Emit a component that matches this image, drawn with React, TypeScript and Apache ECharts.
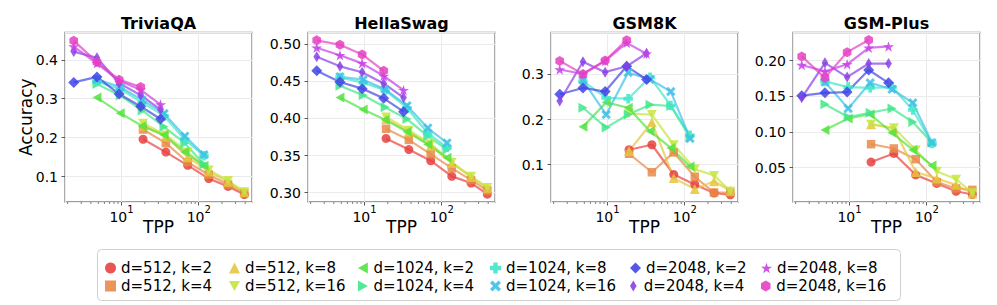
import React, { useEffect, useRef } from 'react';
import * as echarts from 'echarts';

const FONT = 'DejaVu Sans';

// Tokens-per-parameter (x values) per model width
const TPP_D512 = [19, 37.5, 72, 135, 240, 390];
const TPP_D1024 = [4.8, 9.6, 18.5, 35.5, 66, 117];
const TPP_D2048 = [2.4, 4.8, 9.3, 17.7, 32];

const SERIES_NAMES = [
  'd=512, k=2', 'd=512, k=4', 'd=512, k=8', 'd=512, k=16',
  'd=1024, k=2', 'd=1024, k=4', 'd=1024, k=8', 'd=1024, k=16',
  'd=2048, k=2', 'd=2048, k=4', 'd=2048, k=8', 'd=2048, k=16',
];

const BENCHMARKS = ['TriviaQA', 'HellaSwag', 'GSM8K', 'GSM-Plus'];

// ---- TriviaQA accuracy ----
const TQA_512_K2 = [0.196, 0.163, 0.129, 0.095, 0.075, 0.054];
const TQA_512_K4 = [0.221, 0.186, 0.137, 0.105, 0.080, 0.058];
const TQA_512_K8 = [0.231, 0.203, 0.150, 0.113, 0.087, 0.060];
const TQA_512_K16 = [0.237, 0.207, 0.163, 0.117, 0.090, 0.061];
const TQA_1024_K2 = [0.303, 0.263, 0.230, 0.207, 0.163, 0.128];
const TQA_1024_K4 = [0.338, 0.308, 0.270, 0.228, 0.186, 0.132];
const TQA_1024_K8 = [0.344, 0.325, 0.290, 0.256, 0.195, 0.154];
const TQA_1024_K16 = [0.350, 0.330, 0.297, 0.262, 0.204, 0.156];
const TQA_2048_K2 = [0.342, 0.356, 0.312, 0.280, 0.248];
const TQA_2048_K4 = [0.421, 0.405, 0.340, 0.309, 0.272];
const TQA_2048_K8 = [0.434, 0.391, 0.346, 0.323, 0.285];
const TQA_2048_K16 = [0.449, 0.394, 0.349, 0.330];

// ---- HellaSwag accuracy ----
const HS_512_K2 = [0.373, 0.358, 0.343, 0.322, 0.313, 0.298];
const HS_512_K4 = [0.386, 0.371, 0.352, 0.333, 0.317, 0.303];
const HS_512_K8 = [0.399, 0.382, 0.363, 0.340, 0.321, 0.306];
const HS_512_K16 = [0.402, 0.384, 0.366, 0.341, 0.322, 0.307];
const HS_1024_K2 = [0.428, 0.412, 0.398, 0.382, 0.365, 0.347];
const HS_1024_K4 = [0.444, 0.431, 0.415, 0.399, 0.376, 0.358];
const HS_1024_K8 = [0.455, 0.448, 0.438, 0.414, 0.380, 0.361];
const HS_1024_K16 = [0.456, 0.452, 0.439, 0.417, 0.387, 0.367];
const HS_2048_K2 = [0.464, 0.449, 0.440, 0.427, 0.409];
const HS_2048_K4 = [0.483, 0.470, 0.462, 0.447, 0.428];
const HS_2048_K8 = [0.495, 0.485, 0.474, 0.457, 0.438];
const HS_2048_K16 = [0.505, 0.499, 0.486, 0.464];

// ---- GSM8K accuracy ----
const G8_512_K2 = [0.133, 0.144, 0.078, 0.056, 0.037, 0.033];
const G8_512_K4 = [0.124, 0.083, 0.127, 0.073, 0.038, 0.038];
const G8_512_K8 = [0.130, 0.194, 0.070, 0.046, 0.063, 0.042];
const G8_512_K16 = [0.213, 0.211, 0.144, 0.090, 0.076, 0.041];
const G8_1024_K2 = [0.184, 0.238, 0.226, 0.174, 0.137, 0.096];
const G8_1024_K4 = [0.226, 0.182, 0.211, 0.233, 0.230, 0.160];
const G8_1024_K8 = [0.285, 0.248, 0.246, 0.294, 0.231, 0.165];
const G8_1024_K16 = [0.287, 0.211, 0.304, 0.289, 0.262, 0.158];
const G8_2048_K2 = [0.256, 0.270, 0.262, 0.318, 0.289];
const G8_2048_K4 = [0.241, 0.328, 0.305, 0.318, 0.347];
const G8_2048_K8 = [0.311, 0.301, 0.330, 0.370, 0.346];
const G8_2048_K16 = [0.330, 0.301, 0.331, 0.376];

// ---- GSM-Plus accuracy ----
const GP_512_K2 = [0.058, 0.070, 0.040, 0.028, 0.017, 0.0125];
const GP_512_K4 = [0.083, 0.077, 0.062, 0.030, 0.021, 0.019];
const GP_512_K8 = [0.111, 0.105, 0.044, 0.035, 0.026, 0.014];
const GP_512_K16 = [0.111, 0.106, 0.075, 0.045, 0.034, 0.015];
const GP_1024_K2 = [0.103, 0.119, 0.125, 0.099, 0.075, 0.053];
const GP_1024_K4 = [0.139, 0.121, 0.127, 0.133, 0.114, 0.085];
const GP_1024_K8 = [0.171, 0.163, 0.162, 0.163, 0.131, 0.084];
const GP_1024_K16 = [0.170, 0.133, 0.169, 0.160, 0.141, 0.085];
const GP_2048_K2 = [0.151, 0.155, 0.156, 0.187, 0.169];
const GP_2048_K4 = [0.148, 0.197, 0.177, 0.196, 0.196];
const GP_2048_K8 = [0.194, 0.185, 0.195, 0.218, 0.220];
const GP_2048_K16 = [0.206, 0.176, 0.212, 0.229];

const MINOR_TICKS = [2, 3, 4, 5, 6, 7, 8, 9, 20, 30, 40, 50, 60, 70, 80, 90, 200, 300, 400];

const COLORS = [
  '#e8413f', '#e88a48', '#e5c53f', '#c3e63d',
  '#52e33e', '#3fe68a', '#3fe6c9', '#3fc0e6',
  '#4144e6', '#8a3fe6', '#c63fe6', '#e63fc3',
];

const STAR =
  'path://M5,0L6.123,3.455L9.755,3.455L6.816,5.59L7.939,9.045L5,6.91L2.061,9.045L3.184,5.59L0.245,3.455L3.877,3.455Z';
const SYMBOLS: { symbol: string; size: number }[] = [
  { symbol: 'circle', size: 9 },
  { symbol: 'rect', size: 8.5 },
  { symbol: 'triangle', size: 10 },
  { symbol: 'path://M0,0L10,0L5,9Z', size: 10 },
  { symbol: 'path://M9,0L9,10L0,5Z', size: 10 },
  { symbol: 'path://M0,0L0,10L9,5Z', size: 10 },
  { symbol: 'path://M3,0H7V3H10V7H7V10H3V7H0V3H3Z', size: 9.5 },
  { symbol: 'path://M2.2,0L5,2.8L7.8,0L10,2.2L7.2,5L10,7.8L7.8,10L5,7.2L2.2,10L0,7.8L2.8,5L0,2.2Z', size: 9.5 },
  { symbol: 'diamond', size: 11 },
  { symbol: 'path://M3,0L6,5L3,10L0,5Z', size: 11 },
  { symbol: STAR, size: 11 },
  { symbol: 'path://M5,0L9.33,2.5L9.33,7.5L5,10L0.67,7.5L0.67,2.5Z', size: 10 },
];

const PANEL_DATA = [
  [TQA_512_K2, TQA_512_K4, TQA_512_K8, TQA_512_K16, TQA_1024_K2, TQA_1024_K4, TQA_1024_K8, TQA_1024_K16, TQA_2048_K2, TQA_2048_K4, TQA_2048_K8, TQA_2048_K16],
  [HS_512_K2, HS_512_K4, HS_512_K8, HS_512_K16, HS_1024_K2, HS_1024_K4, HS_1024_K8, HS_1024_K16, HS_2048_K2, HS_2048_K4, HS_2048_K8, HS_2048_K16],
  [G8_512_K2, G8_512_K4, G8_512_K8, G8_512_K16, G8_1024_K2, G8_1024_K4, G8_1024_K8, G8_1024_K16, G8_2048_K2, G8_2048_K4, G8_2048_K8, G8_2048_K16],
  [GP_512_K2, GP_512_K4, GP_512_K8, GP_512_K16, GP_1024_K2, GP_1024_K4, GP_1024_K8, GP_1024_K16, GP_2048_K2, GP_2048_K4, GP_2048_K8, GP_2048_K16],
];

const Y_RANGES = [
  [0.035, 0.470],
  [0.2875, 0.5155],
  [0.017, 0.393],
  [0.002, 0.2395],
];
const Y_DECIMALS = [1, 2, 1, 2];
const X_MIN = 1.85;
const X_MAX = 490;

const GRID_LEFTS = [65, 308, 551, 793];
const GRID_TOP = 32.5;
const GRID_W = 187;
const GRID_H = 169.5;

const LEGEND_TEXT_X = [121, 245, 374, 506, 646, 777];
const LEGEND_ROW_Y = [266, 284];

function tppFor(j: number) {
  return j < 4 ? TPP_D512 : j < 8 ? TPP_D1024 : TPP_D2048;
}

export default function App() {
  const ref = useRef<HTMLDivElement>(null);
  useEffect(() => {
    if (!ref.current) return;
    const chart = echarts.init(ref.current, undefined, { renderer: 'svg' });

    const grids: any[] = [];
    const xAxes: any[] = [];
    const yAxes: any[] = [];
    const series: any[] = [];
    const titles: any[] = [];

    BENCHMARKS.forEach((bench, i) => {
      grids.push({
        left: GRID_LEFTS[i],
        top: GRID_TOP,
        width: GRID_W,
        height: GRID_H,
        show: true,
        borderColor: '#808080',
        borderWidth: 1.3,
        containLabel: false,
      });
      titles.push({
        text: bench,
        left: GRID_LEFTS[i] + GRID_W / 2,
        top: 15,
        textAlign: 'center',
        padding: 0,
        textStyle: { fontFamily: FONT, fontSize: 16, fontWeight: 'bold', color: '#000' },
      });
      xAxes.push({
        type: 'log',
        logBase: 10,
        gridIndex: i,
        min: X_MIN,
        max: X_MAX,
        name: 'TPP',
        nameLocation: 'middle',
        nameGap: 16,
        nameMoveOverlap: false,
        nameTextStyle: { fontFamily: FONT, fontSize: 17, color: '#000', verticalAlign: 'top' },
        axisLine: { show: false },
        axisTick: { show: true, length: 3.5, lineStyle: { color: '#333', width: 0.8 } },
        splitLine: { show: true, lineStyle: { color: '#ebebeb', width: 1 } },
        axisLabel: {
          showMinLabel: false,
          showMaxLabel: false,
          margin: 2,
          formatter: (v: number) => {
            const e = Math.log10(v);
            if (Math.abs(e - Math.round(e)) < 1e-6) return `{b|10}{s|${Math.round(e)}}`;
            return '';
          },
          rich: {
            b: { fontFamily: FONT, fontSize: 14, color: '#000', lineHeight: 20, verticalAlign: 'bottom' },
            s: { fontFamily: FONT, fontSize: 10, color: '#000', lineHeight: 9, verticalAlign: 'top' },
          },
        },
      });
      yAxes.push({
        type: 'value',
        gridIndex: i,
        min: Y_RANGES[i][0],
        max: Y_RANGES[i][1],
        name: i === 0 ? 'Accuracy' : '',
        nameLocation: 'middle',
        nameGap: 31,
        nameMoveOverlap: false,
        nameTextStyle: { fontFamily: FONT, fontSize: 17, color: '#000' },
        axisLine: { show: false },
        axisTick: { show: true, length: 3.5, lineStyle: { color: '#333', width: 0.8 } },
        splitLine: { show: true, lineStyle: { color: '#ebebeb', width: 1 } },
        axisLabel: {
          showMinLabel: false,
          showMaxLabel: false,
          margin: 7,
          fontFamily: FONT,
          fontSize: 14,
          color: '#000',
          formatter: (v: number) => v.toFixed(Y_DECIMALS[i]),
        },
      });

      PANEL_DATA[i].forEach((vals, j) => {
        const tpp = tppFor(j);
        series.push({
          type: 'line',
          name: SERIES_NAMES[j],
          xAxisIndex: i,
          yAxisIndex: i,
          data: vals.map((v, k) => [tpp[k], v]),
          symbol: SYMBOLS[j].symbol,
          symbolSize: SYMBOLS[j].size,
          symbolKeepAspect: true,
          lineStyle: { width: 2.2, color: COLORS[j], opacity: 0.7 },
          itemStyle: { color: COLORS[j], opacity: 0.85 },
          emphasis: { disabled: true },
          z: 3,
        });
      });

      series.push({
        type: 'custom',
        xAxisIndex: i,
        yAxisIndex: i,
        silent: true,
        clip: false,
        z: 5,
        data: MINOR_TICKS.filter((t) => t > X_MIN && t < X_MAX).map((t) => [t, Y_RANGES[i][0]]),
        renderItem: (params: any, api: any) => {
          const p = api.coord([api.value(0), api.value(1)]);
          return {
            type: 'line',
            shape: { x1: p[0], y1: p[1], x2: p[0], y2: p[1] + 2 },
            style: { stroke: '#333', lineWidth: 0.6 },
          };
        },
      });
    });

    const legends = SERIES_NAMES.map((name, j) => {
      const col = Math.floor(j / 2);
      const row = j % 2;
      return {
        data: [{ name, icon: SYMBOLS[j].symbol, itemStyle: { color: COLORS[j], opacity: 0.9 } }],
        left: LEGEND_TEXT_X[col] - 16,
        top: LEGEND_ROW_Y[row] - 5.5,
        itemWidth: 11,
        itemHeight: 11,
        padding: 0,
        textStyle: { fontFamily: FONT, fontSize: 15, color: '#000' },
      };
    });

    chart.setOption({
      animation: false,
      backgroundColor: '#ffffff',
      title: titles,
      grid: grids,
      xAxis: xAxes,
      yAxis: yAxes,
      series,
      legend: legends,
      graphic: [
        {
          type: 'rect',
          z: -1,
          shape: { x: 97.5, y: 249.5, width: 803, height: 51, r: 4 },
          style: { fill: '#fff', stroke: '#cfcfcf', lineWidth: 1 },
        },
      ],
    });

    return () => chart.dispose();
  }, []);

  return (
    <div
      ref={ref}
      style={{ position: 'absolute', left: 0, top: 0, width: 997, height: 305 }}
    />
  );
}
